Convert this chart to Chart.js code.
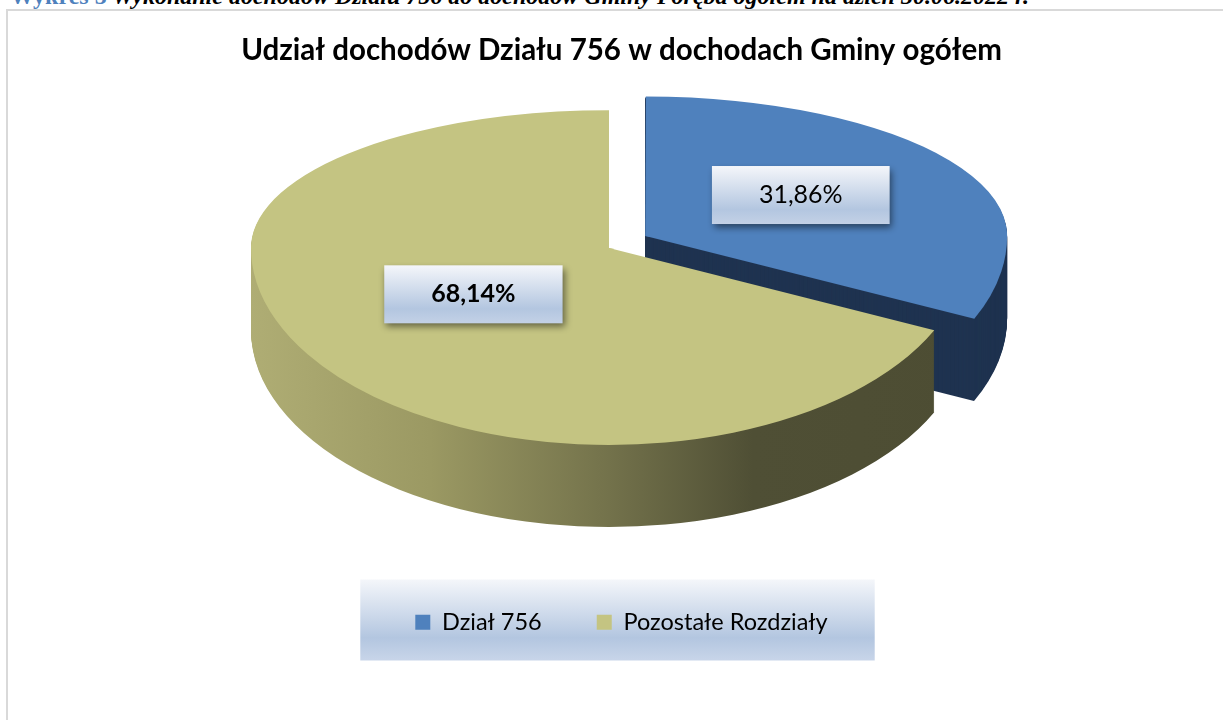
<!DOCTYPE html>
<html>
<head>
<meta charset="utf-8">
<script src="https://cdn.jsdelivr.net/npm/chart.js@4.4.1/dist/chart.umd.min.js"></script>
<style>
  html, body { margin: 0; padding: 0; background: #fff; overflow: hidden; }
  #caption { position: absolute; left: 10px; top: -17px; white-space: nowrap; line-height: 24px;
    font: bold italic 24px "Liberation Serif", serif; color: #000; }
  #caption span { color: #4f81bd; font-style: normal; }
  #frame { position: absolute; left: 6px; top: 9px; width: 1300px; height: 800px;
    border-left: 2px solid #d9d9d9; border-top: 2px solid #d9d9d9; }
  #wrap { position: absolute; left: 0; top: 0; width: 1223px; height: 720px; }
</style>
</head>
<body>
<div id="caption"><span>Wykres 5</span> Wykonanie dochodów Działu 756 do dochodów Gminy Poręba ogółem na dzień 30.06.2022 r.</div>
<div id="frame"></div>
<div id="wrap"><canvas id="chart" width="1223" height="720"></canvas></div>
<script>
const categories = ['Dział 756', 'Pozostałe Rozdziały'];
const shares = [31.86, 68.14];
const shareLabels = ['31,86%', '68,14%'];
const labelBold = [false, true];
const topColors = ['#4f81bd', '#c4c482'];
const explode = [172, 0];

// tilted pie placement (back half is flatter than the front half, like a perspective view)
const CENTER_X = 609;
const CENTER_Y = 248;
const K_TOP = 0.385;
const K_BOTTOM = 0.55;
const K_OFF = 0.52;
const DEPTH = 82;
const FONT = 'Lato, "Open Sans", sans-serif';

function arcCenter(a) {
  const mid = (a.startAngle + a.endAngle) / 2;
  const off = (a.options.offset || 0) / 4;
  return {
    ux: a.x + Math.cos(mid) * off,
    uy: a.y + Math.sin(mid) * off,
    sx: CENTER_X + Math.cos(mid) * off,
    sy: CENTER_Y + Math.sin(mid) * off * K_OFF,
    off: off,
    mid: mid
  };
}

// run fn with the back (half 0) or front (half 1) of a slice squashed into place
function withHalf(ctx, a, half, dy, fn) {
  const c = arcCenter(a);
  const k = half === 0 ? K_TOP : K_BOTTOM;
  ctx.save();
  ctx.translate(c.sx, c.sy + dy);
  ctx.scale(1, k);
  ctx.translate(-c.ux, -c.uy);
  ctx.beginPath();
  if (half === 0) ctx.rect(c.ux - 3000, c.uy - 6000, 6000, 6000 + 1 / k);
  else ctx.rect(c.ux - 3000, c.uy, 6000, 6000);
  ctx.clip();
  fn(c);
  ctx.restore();
}

function slicePath(ctx, a, c) {
  const fix = 1 - Math.sin(Math.min(Math.PI, a.circumference || 0));
  ctx.beginPath();
  ctx.moveTo(c.ux, c.uy);
  ctx.arc(c.ux, c.uy, a.outerRadius + c.off * fix, a.startAngle, a.endAngle);
  ctx.closePath();
}

const pie3d = {
  id: 'pie3d',
  beforeDatasetsDraw(chart) {
    const ctx = chart.ctx;
    const arcs = chart.getDatasetMeta(0).data;
    const a0 = arcs[0];
    const R = a0.outerRadius;

    const side = ctx.createLinearGradient(a0.x - R, 0, a0.x + R, 0);
    side.addColorStop(0, '#afad74');
    side.addColorStop(0.25, '#9b9963');
    side.addColorStop(0.5, '#73724b');
    side.addColorStop(0.7, '#4f4f35');
    side.addColorStop(1, '#4d4d33');
    const sideColors = ['#1f3350', side];

    // extruded sides
    arcs.forEach((a, i) => {
      for (let d = DEPTH; d > 0; d--) {
        for (let h = 0; h < 2; h++) {
          withHalf(ctx, a, h, d, (c) => {
            ctx.fillStyle = sideColors[i];
            slicePath(ctx, a, c);
            ctx.fill();
          });
        }
      }
    });

    // top faces, drawn by the arc elements themselves
    arcs.forEach((a) => {
      for (let h = 0; h < 2; h++) {
        withHalf(ctx, a, h, 0, () => a.draw(ctx));
      }
    });
    return false;
  }
};

// shaded panel behind the legend
const legendPanel = {
  id: 'legendPanel',
  beforeDraw(chart) {
    const hb = chart.legend.legendHitBoxes;
    if (!hb || !hb.length) return;
    const ctx = chart.ctx;
    const first = hb[0], last = hb[hb.length - 1];
    const left = first.left - 55;
    const right = last.left + last.width + 47;
    const top = first.top - 31;
    const bottom = first.top + 50;
    const g = ctx.createLinearGradient(0, top, 0, bottom);
    g.addColorStop(0, '#f4f6fa');
    g.addColorStop(0.72, '#b3c6e0');
    g.addColorStop(1, '#c8d5e9');
    ctx.save();
    ctx.fillStyle = g;
    ctx.fillRect(left, top, right - left, bottom - top);
    ctx.restore();
  }
};

// percentage boxes on the slices
const valueBoxes = {
  id: 'valueBoxes',
  afterDraw(chart) {
    const ctx = chart.ctx;
    const arcs = chart.getDatasetMeta(0).data;
    arcs.forEach((a, i) => {
      const c = arcCenter(a);
      const r = a.outerRadius * 0.483;
      const s = Math.sin(c.mid);
      const x = c.sx + Math.cos(c.mid) * r + 10;
      const y = c.sy + s * r * (s < 0 ? K_TOP : K_BOTTOM) - 5;
      ctx.save();
      ctx.font = (labelBold[i] ? 'bold ' : '') + '25px ' + FONT;
      const w = ctx.measureText(shareLabels[i]).width + 94;
      const h = 58;
      const g = ctx.createLinearGradient(0, y - h / 2, 0, y + h / 2);
      g.addColorStop(0, '#f4f6fa');
      g.addColorStop(0.75, '#b3c6e0');
      g.addColorStop(1, '#c3d1e6');
      ctx.shadowColor = 'rgba(0,0,0,0.5)';
      ctx.shadowBlur = 7;
      ctx.shadowOffsetX = 2;
      ctx.shadowOffsetY = 4;
      ctx.fillStyle = g;
      ctx.fillRect(x - w / 2, y - h / 2, w, h);
      ctx.shadowColor = 'transparent';
      ctx.fillStyle = '#000';
      ctx.textAlign = 'center';
      ctx.textBaseline = 'middle';
      ctx.fillText(shareLabels[i], x, y);
      ctx.restore();
    });
  }
};

const ctx = document.getElementById('chart').getContext('2d');
new Chart(ctx, {
  type: 'pie',
  data: {
    labels: categories,
    datasets: [{
      data: shares,
      backgroundColor: topColors,
      borderWidth: 0,
      offset: explode,
      hoverOffset: 0,
      clip: false
    }]
  },
  options: {
    responsive: false,
    animation: false,
    events: [],
    radius: 358,
    layout: { padding: { left: 20, right: 0, top: 0, bottom: 76 } },
    plugins: {
      title: {
        display: true,
        text: 'Udział dochodów Działu 756 w dochodach Gminy ogółem',
        color: '#000',
        font: { family: FONT, size: 29.5, weight: 'bold' },
        padding: { top: 33, bottom: 10 }
      },
      legend: {
        position: 'bottom',
        labels: {
          boxWidth: 15,
          boxHeight: 15,
          padding: 55,
          color: '#000',
          font: { family: FONT, size: 23.5 }
        }
      },
      tooltip: { enabled: false }
    }
  },
  plugins: [pie3d, legendPanel, valueBoxes]
});
</script>
</body>
</html>
